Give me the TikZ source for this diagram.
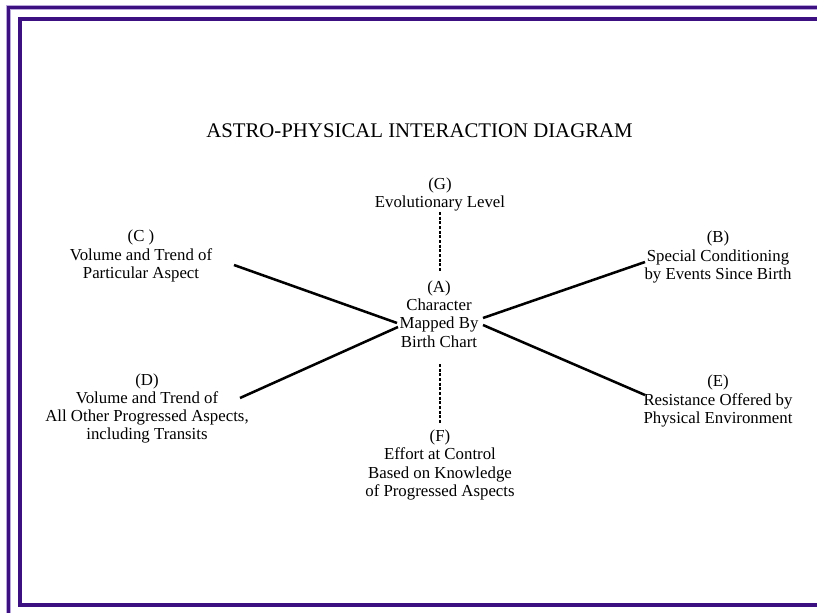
\documentclass[tikz,border=0pt]{standalone}
\usepackage{fontspec}
\setmainfont{Liberation Serif}
\definecolor{framepurple}{HTML}{3C1080}
\definecolor{framelight}{HTML}{B9A6DA}
\begin{document}
\begin{tikzpicture}[x=0.75pt,y=-0.75pt,
  lbl/.style={align=center,inner sep=0pt,font=\fontsize{12.6}{13.55}\selectfont},
  conn/.style={line width=1.9pt},
  dconn/.style={line width=2.2pt,dash pattern=on 2.2pt off 1.3pt},
  frameline/.style={line width=2.4pt,draw=framepurple}]
\useasboundingbox (0,0) rectangle (817,613);
\begin{scope}
\clip (0,0) rectangle (817,613);
\draw[line width=3.4pt,framelight] (8.5,7.5) rectangle (840,640);
\draw[frameline] (8.5,7.5) rectangle (840,640);
\draw[line width=3.4pt,framelight] (20,19) rectangle (818.8,605);
\draw[frameline] (20,19) rectangle (818.8,605);
\end{scope}
\node[lbl,font=\fontsize{15.6}{17}\selectfont] (title) at (419.5,131) {ASTRO-PHYSICAL INTERACTION DIAGRAM};
\node[lbl] (g) at (440,194.5) {(G)\\Evolutionary Level};
\node[lbl,font=\fontsize{12.6}{13.7}\selectfont] (a) at (439,314) {(A)\\Character\\Mapped By\\Birth Chart};
\node[lbl] (c) at (141,256) {(C )\\Volume and Trend of\\Particular Aspect};
\node[lbl] (b) at (718,257) {(B)\\Special Conditioning\\by Events Since Birth};
\node[lbl] (d) at (147,408.5) {(D)\\Volume and Trend of\\All Other Progressed Aspects,\\including Transits};
\node[lbl] (e) at (718,401) {(E)\\Resistance Offered by\\Physical Environment};
\node[lbl] (f) at (440,465) {(F)\\Effort at Control\\Based on Knowledge\\of Progressed Aspects};
\coordinate (aNW) at (397,323);
\coordinate (aNE) at (483,318);
\coordinate (aSW) at (398,327);
\coordinate (aSE) at (483,325);
\coordinate (aN) at (440,272);
\coordinate (aS) at (440,364);
\coordinate (cE) at (234,265);
\coordinate (bW) at (645,262);
\coordinate (dE) at (240,398);
\coordinate (eW) at (645,395);
\coordinate (gS) at (440,212);
\coordinate (fN) at (440,423);
\draw[conn] (cE) -- (aNW);
\draw[conn] (aNE) -- (bW);
\draw[conn] (dE) -- (aSW);
\draw[conn] (aSE) -- (eW);
\draw[dconn] (gS) -- (aN);
\draw[dconn] (aS) -- (fN);
\end{tikzpicture}
\end{document}
